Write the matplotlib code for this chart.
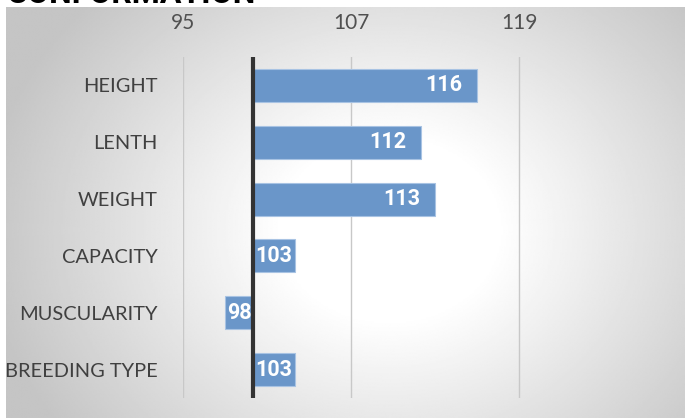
import numpy as np
from matplotlib import pyplot as plt

categories = ['HEIGHT', 'LENTH', 'WEIGHT', 'CAPACITY', 'MUSCULARITY', 'BREEDING TYPE']
values = [116, 112, 113, 103, 98, 103]
base = 100
ticks = [95, 107, 119]

W, H = 685, 418
fig = plt.figure(figsize=(W / 100, H / 100), dpi=100)
fig.patch.set_facecolor('white')

# radial grey background of the chart area
bg = fig.add_axes([6 / W, 0, 1 - 6 / W, 1 - 7 / H])
gx, gy = np.meshgrid(np.linspace(6, W, 400), np.linspace(7, H, 300))
r = np.hypot((gx - 390) / 360, (gy - 230) / 300)
shade = np.clip(1 - 0.22 * np.clip(r - 0.3, 0, None) / 0.8, 0.77, 1)
bg.imshow(shade, cmap='gray', vmin=0, vmax=1, aspect='auto',
          extent=(0, 1, 0, 1), interpolation='bilinear')
bg.set_axis_off()

fig.text(7 / W, 1 - 3 / H, 'CONFORMATION', fontsize=23, fontweight='bold',
         family='Roboto', color='black', ha='left', va='baseline')

ax = fig.add_axes([183 / W, 1 - 398 / H, (W - 183) / W + 0.01, 341 / H])
ax.patch.set_alpha(0)
y = np.arange(len(categories))
ax.barh(y, [v - base for v in values], left=base, height=0.58,
        color='#6a96c9', edgecolor='#a8c3e3', linewidth=0.8, zorder=2)
ax.axvline(base, color='#333333', lw=3, zorder=3)

for yi, v in zip(y, values):
    if abs(v - base) > 5:
        ax.text(v - 1.1, yi, str(v), ha='right', va='center', color='white',
                fontsize=15.5, fontweight='bold', family='Roboto', zorder=4)
    else:
        ax.text((v + base) / 2, yi, str(v), ha='center', va='center', color='white',
                fontsize=15.5, fontweight='bold', family='Roboto', zorder=4)

ax.set_xlim(95, 131.3)
ax.set_ylim(len(categories) - 0.5, -0.5)
ax.set_xticks(ticks)
ax.xaxis.tick_top()
ax.tick_params(axis='x', length=0, pad=17, labelsize=15, labelcolor='#505050')
ax.set_yticks(y)
ax.set_yticklabels(categories)
ax.tick_params(axis='y', length=0, pad=18, labelsize=14.4, labelcolor='#404040')
for lab in ax.get_xticklabels() + ax.get_yticklabels():
    lab.set_family('Lato')
ax.grid(axis='x', color='#c8c8c8', lw=1, zorder=1)
for s in ax.spines.values():
    s.set_visible(False)

fig.savefig('out.png', dpi=100)
